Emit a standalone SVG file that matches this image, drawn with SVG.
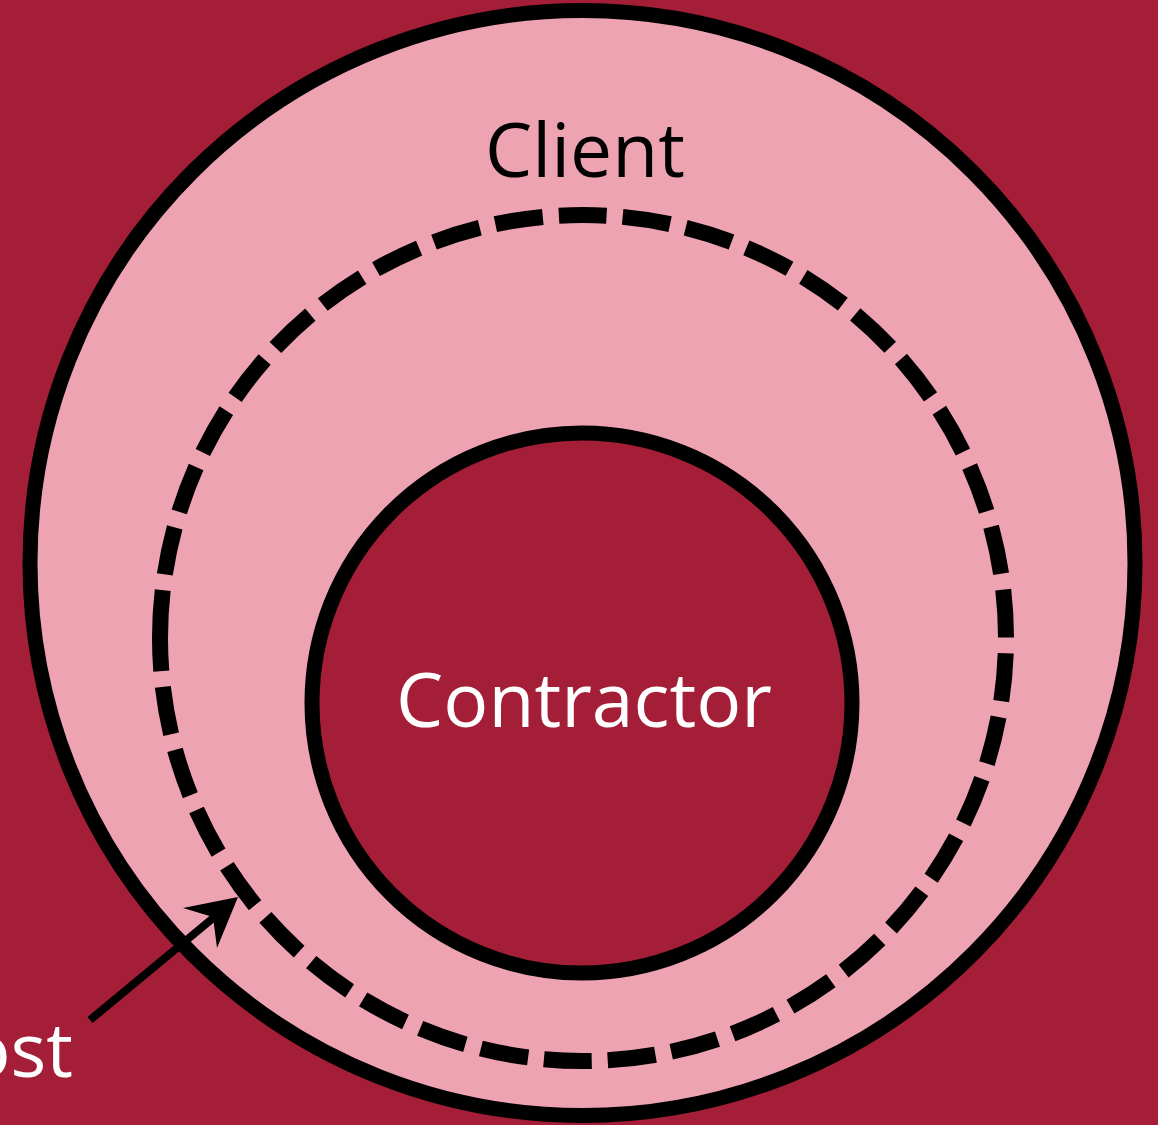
<svg xmlns="http://www.w3.org/2000/svg" width="1158" height="1125" viewBox="0 0 1158 1125">
  <style>
    .lbl { font-family: "Open Sans", "Noto Sans", sans-serif; font-size: 75px; }
    .ring { stroke: #000; stroke-width: 15; }
  </style>
  <rect x="0" y="0" width="1158" height="1125" fill="#A31E36"/>
  <g id="client">
    <circle class="ring" cx="582.5" cy="563" r="552.5" fill="#EEA3B2"/>
    <text class="lbl" x="585" y="177" text-anchor="middle" fill="#000">Client</text>
  </g>
  <g id="host-boundary">
    <circle cx="583" cy="638" r="423" fill="none" stroke="#000" stroke-width="16" stroke-dasharray="48 16" transform="rotate(180 583 638)"/>
  </g>
  <g id="contractor">
    <circle class="ring" cx="582" cy="703" r="270" fill="#A31E36"/>
    <text class="lbl" x="584" y="727" text-anchor="middle" fill="#fff">Contractor</text>
  </g>
  <g id="host">
    <text class="lbl" x="73" y="1077" text-anchor="end" fill="#fff">Host</text>
  </g>
  <g id="connectors">
    <line x1="90" y1="1020" x2="218" y2="914" stroke="#000" stroke-width="8"/>
    <polygon points="238,897 183,908 213,917 217,948" fill="#000"/>
  </g>
</svg>
